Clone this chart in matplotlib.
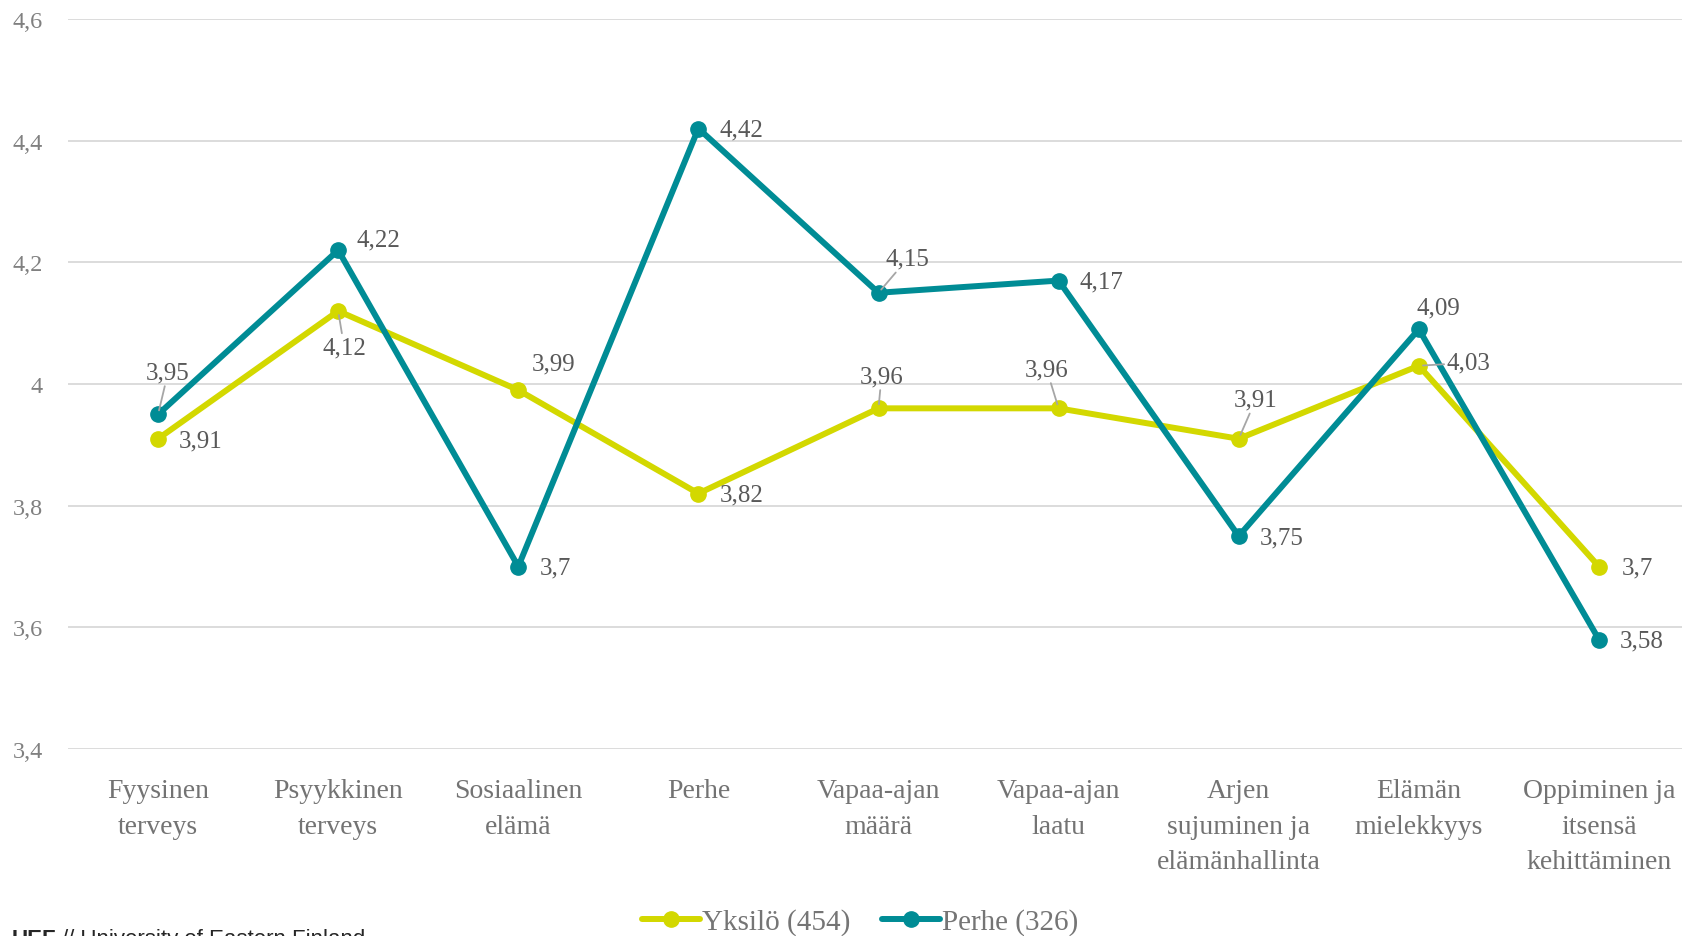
import matplotlib.pyplot as plt

# Data
categories = ['Fyysinen\nterveys', 'Psyykkinen\nterveys', 'Sosiaalinen\nelämä', 'Perhe',
              'Vapaa-ajan\nmäärä', 'Vapaa-ajan\nlaatu', 'Arjen\nsujuminen ja\nelämänhallinta',
              'Elämän\nmielekkyys', 'Oppiminen ja\nitsensä\nkehittäminen']
yksilo = [3.91, 4.12, 3.99, 3.82, 3.96, 3.96, 3.91, 4.03, 3.70]
perhe = [3.95, 4.22, 3.70, 4.42, 4.15, 4.17, 3.75, 4.09, 3.58]
yticks = [3.4, 3.6, 3.8, 4.0, 4.2, 4.4, 4.6]
ytick_labels = ['3,4', '3,6', '3,8', '4', '4,2', '4,4', '4,6']
series_names = ['Yksilö (454)', 'Perhe (326)']

# label offsets in pixels (dx, dy), and whether a leader line is drawn
yk_offsets = [(43, -2), (6, -36), (35, 27), (43, -1), (3, 32), (-12, 39), (17, 39), (50, 3), (38, -1)]
yk_leader = [False, True, False, False, True, True, True, True, False]
pe_offsets = [(10, 42), (40, 11), (37, -1), (43, -1), (29, 34), (43, -1), (43, -1), (20, 22), (43, -1)]
pe_leader = [True, False, False, False, True, False, False, False, False]

col_y = '#D3D800'
col_p = '#008C95'
txt = '#595959'

plt.rcParams['font.family'] = ['Liberation Serif', 'DejaVu Serif']

fig = plt.figure(figsize=(16.83, 9.37), dpi=100)
ax = fig.add_axes([68 / 1683, 1 - 750 / 937, 1621 / 1683, 730 / 937])

x = list(range(len(categories)))
ax.plot(x, yksilo, color=col_y, lw=4.3, marker='o', ms=11, label=series_names[0],
        solid_capstyle='round', zorder=3)
ax.plot(x, perhe, color=col_p, lw=4.3, marker='o', ms=11, label=series_names[1],
        solid_capstyle='round', zorder=4)

def fmt(v):
    s = f'{v:.2f}'.rstrip('0').rstrip('.')
    return s.replace('.', ',')

for vals, offs, leads in [(yksilo, yk_offsets, yk_leader), (perhe, pe_offsets, pe_leader)]:
    for i, v in enumerate(vals):
        ap = None
        if leads[i]:
            ap = dict(arrowstyle='-', color='#a6a6a6', lw=1.3, shrinkA=0, shrinkB=3)
        ax.annotate(fmt(v), (i, v), xytext=offs[i], textcoords='offset pixels',
                    ha='center', va='center', fontsize=18, color=txt,
                    arrowprops=ap, zorder=5)

ax.set_xlim(-0.5, 8.5)
ax.set_ylim(3.4, 4.6)
ax.set_yticks(yticks)
ax.set_yticklabels(ytick_labels)
ax.set_xticks(x)
ax.set_xticklabels(categories, linespacing=1.55)
ax.tick_params(axis='both', length=0, labelcolor='#737373')
ax.tick_params(axis='x', pad=21, labelsize=20)
ax.tick_params(axis='y', pad=18, labelsize=17.5)
for lab in ax.get_yticklabels():
    lab.set_color('#808080')
ax.grid(axis='y', color='#d9d9d9', lw=1.3)
ax.set_axisbelow(True)
for s in ax.spines.values():
    s.set_visible(False)

fig.legend(loc='center', bbox_to_anchor=(860 / 1683, 1 - 923 / 937), ncol=2, frameon=False,
           fontsize=21, handlelength=2.0, handletextpad=0.05, columnspacing=1.1,
           labelcolor='#757575', borderaxespad=0, borderpad=0)

# footer text, cut at the bottom edge as in the source slide
fig.text(12 / 1683, 1 - 929 / 937, 'UEF', fontsize=16, fontweight='bold', color='#262626',
         family='Liberation Sans', va='top', ha='left')
fig.text(62 / 1683, 1 - 929 / 937, '// University of Eastern Finland', fontsize=16,
         color='#262626', family='Liberation Sans', va='top', ha='left')

plt.savefig('out.png', dpi=100)
